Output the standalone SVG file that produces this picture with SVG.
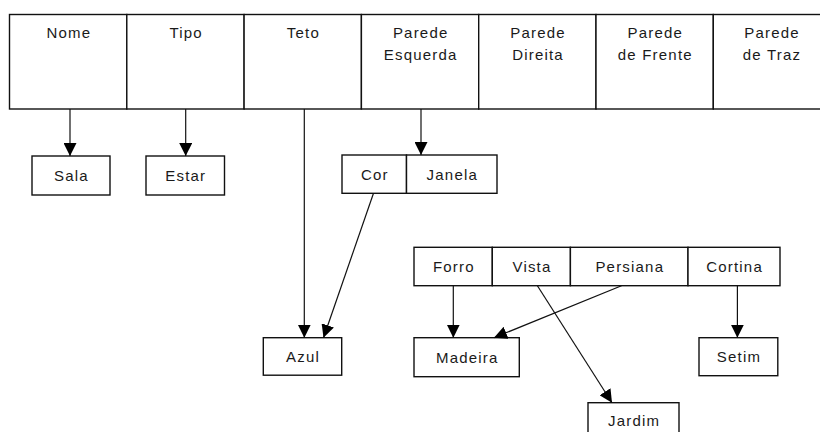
<svg xmlns="http://www.w3.org/2000/svg" width="820" height="432" viewBox="0 0 820 432">
  <style>
    .box { fill: #fff; stroke: #111; stroke-width: 1.4; }
    .lbl { font-family: "Liberation Sans", Arial, sans-serif; font-size: 15px; letter-spacing: 1.2px; fill: #1a1a1a; text-anchor: middle; }
    .edge { fill: none; stroke: #111; stroke-width: 1.2; marker-end: url(#arrow); }
  </style>
  <defs>
    <marker id="arrow" markerUnits="userSpaceOnUse" markerWidth="14" markerHeight="13" refX="13" refY="6.5" orient="auto">
      <path d="M0,0 L13,6.5 L0,13 Z" fill="#000"/>
    </marker>
  </defs>

  <rect width="820" height="432" fill="#fff"/>

  <!-- record: room attributes -->
  <g id="room">
    <g id="nome"><rect class="box" x="9.5" y="14.5" width="117.3" height="94.5"/><text class="lbl" x="68.8" y="38">Nome</text></g>
    <g id="tipo"><rect class="box" x="126.8" y="14.5" width="117.3" height="94.5"/><text class="lbl" x="186.1" y="38">Tipo</text></g>
    <g id="teto"><rect class="box" x="244.1" y="14.5" width="117.3" height="94.5"/><text class="lbl" x="303.4" y="38">Teto</text></g>
    <g id="parede-esquerda"><rect class="box" x="361.4" y="14.5" width="117.3" height="94.5"/><text class="lbl" x="420.7" y="38">Parede</text><text class="lbl" x="420.7" y="59.5">Esquerda</text></g>
    <g id="parede-direita"><rect class="box" x="478.7" y="14.5" width="117.3" height="94.5"/><text class="lbl" x="538" y="38">Parede</text><text class="lbl" x="538" y="59.5">Direita</text></g>
    <g id="parede-frente"><rect class="box" x="596" y="14.5" width="117.3" height="94.5"/><text class="lbl" x="655.3" y="38">Parede</text><text class="lbl" x="655.3" y="59.5">de Frente</text></g>
    <g id="parede-traz"><rect class="box" x="713.3" y="14.5" width="117.3" height="94.5"/><text class="lbl" x="772" y="38">Parede</text><text class="lbl" x="772" y="59.5">de Traz</text></g>
  </g>

  <g id="sala"><rect class="box" x="32" y="156" width="78" height="39"/><text class="lbl" x="71.5" y="181">Sala</text></g>
  <g id="estar"><rect class="box" x="146" y="156" width="78.5" height="39"/><text class="lbl" x="185.8" y="181">Estar</text></g>

  <!-- record: wall -->
  <g id="parede">
    <g id="cor"><rect class="box" x="342" y="155" width="64.5" height="38.3"/><text class="lbl" x="374.8" y="180">Cor</text></g>
    <g id="janela"><rect class="box" x="406.5" y="155" width="90.5" height="38.3"/><text class="lbl" x="452.3" y="180">Janela</text></g>
  </g>

  <!-- record: window -->
  <g id="janela-rec">
    <g id="forro"><rect class="box" x="414" y="247.3" width="78.3" height="38.4"/><text class="lbl" x="453.8" y="272">Forro</text></g>
    <g id="vista"><rect class="box" x="492.3" y="247.3" width="78.1" height="38.4"/><text class="lbl" x="532" y="272">Vista</text></g>
    <g id="persiana"><rect class="box" x="570.4" y="247.3" width="117.6" height="38.4"/><text class="lbl" x="629.8" y="272">Persiana</text></g>
    <g id="cortina"><rect class="box" x="688" y="247.3" width="92" height="38.4"/><text class="lbl" x="734.6" y="272">Cortina</text></g>
  </g>

  <g id="azul"><rect class="box" x="263.3" y="337.7" width="78.4" height="37.5"/><text class="lbl" x="303.1" y="362">Azul</text></g>
  <g id="madeira"><rect class="box" x="414" y="337.7" width="105.3" height="39"/><text class="lbl" x="467.3" y="363">Madeira</text></g>
  <g id="setim"><rect class="box" x="699" y="337.7" width="78.8" height="38"/><text class="lbl" x="739" y="362">Setim</text></g>
  <g id="jardim"><rect class="box" x="588" y="402.7" width="91" height="38"/><text class="lbl" x="634.1" y="426">Jardim</text></g>

  <!-- references -->
  <g id="connectors">
    <line class="edge" x1="70" y1="109" x2="70" y2="156"/>
    <line class="edge" x1="185.7" y1="109" x2="185.7" y2="156"/>
    <line class="edge" x1="304.3" y1="109" x2="304.3" y2="337.7"/>
    <line class="edge" x1="421" y1="109" x2="421" y2="155"/>
    <line class="edge" x1="373.5" y1="193.3" x2="323.5" y2="337.7"/>
    <line class="edge" x1="453.3" y1="285.7" x2="453.3" y2="337.7"/>
    <line class="edge" x1="621.5" y1="285.7" x2="494" y2="337.7"/>
    <line class="edge" x1="537.4" y1="285.7" x2="612" y2="402.7"/>
    <line class="edge" x1="737.4" y1="285.7" x2="737.4" y2="337.7"/>
  </g>
</svg>
